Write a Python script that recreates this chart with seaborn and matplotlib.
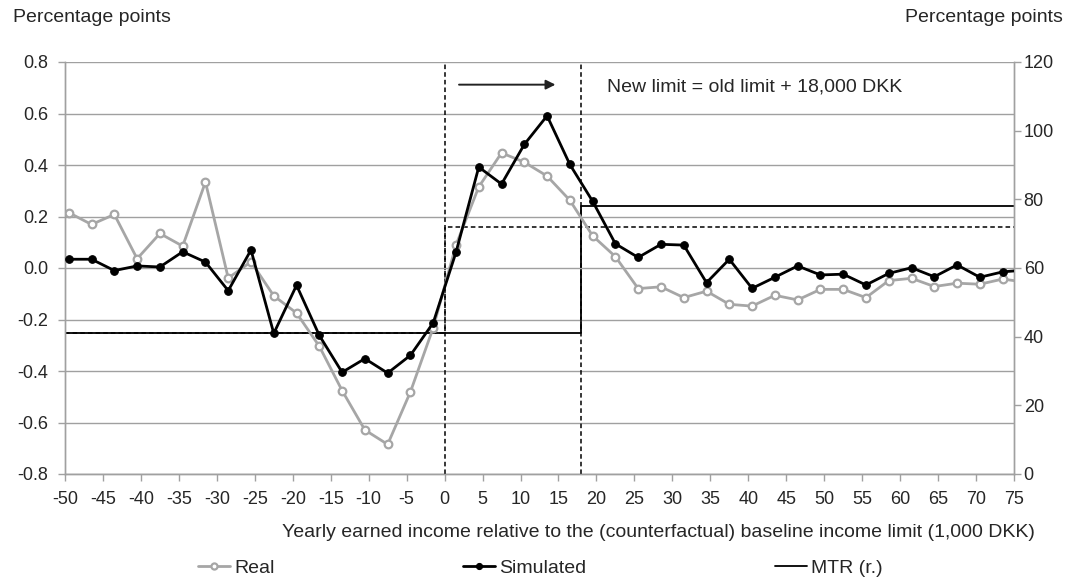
import numpy as np
import pandas as pd
import matplotlib
matplotlib.use("Agg")
import matplotlib.pyplot as plt
import seaborn as sns

# ---------------- data ----------------
income_bins = [-49.5, -46.5, -43.5, -40.5, -37.5, -34.5, -31.5, -28.5, -25.5, -22.5,
               -19.5, -16.5, -13.5, -10.5, -7.5, -4.5, -1.5, 1.5, 4.5, 7.5,
               10.5, 13.5, 16.5, 19.5, 22.5, 25.5, 28.5, 31.5, 34.5, 37.5,
               40.5, 43.5, 46.5, 49.5, 52.5, 55.5, 58.5, 61.5, 64.5, 67.5,
               70.5, 73.5, 76.5]
real = [0.215, 0.169, 0.208, 0.036, 0.134, 0.085, 0.334, -0.039, 0.024, -0.108,
        -0.175, -0.304, -0.476, -0.629, -0.685, -0.481, -0.232, 0.089, 0.315, 0.447,
        0.411, 0.357, 0.263, 0.125, 0.044, -0.080, -0.073, -0.115, -0.090, -0.141,
        -0.148, -0.106, -0.124, -0.083, -0.083, -0.115, -0.049, -0.040, -0.072, -0.059,
        -0.063, -0.043, -0.055]
simulated = [0.034, 0.034, -0.010, 0.008, 0.004, 0.063, 0.023, -0.088, 0.070, -0.254,
             -0.067, -0.262, -0.405, -0.352, -0.408, -0.339, -0.213, 0.061, 0.392, 0.326,
             0.480, 0.591, 0.402, 0.259, 0.094, 0.041, 0.092, 0.089, -0.057, 0.034,
             -0.079, -0.036, 0.008, -0.027, -0.024, -0.066, -0.021, 0.001, -0.034, 0.012,
             -0.036, -0.015, -0.008]

# marginal tax rate (right axis), step functions
mtr_new_x = [-50, 18, 75]
mtr_new_y = [41, 78, 78]
mtr_old_x = [-50, 0, 75]
mtr_old_y = [41, 72, 72]

old_limit = 0
new_limit = 18
arrow_from = (1.9, 0.712)
arrow_to = (14.6, 0.712)
note_pos = (21.4, 0.704)
note_text = "New limit = old limit + 18,000 DKK"

x_ticks = list(range(-50, 76, 5))
y_ticks = [-0.8, -0.6, -0.4, -0.2, 0.0, 0.2, 0.4, 0.6, 0.8]
y2_ticks = [0, 20, 40, 60, 80, 100, 120]

# ---------------- style ----------------
sns.set_style("white")
plt.rcParams["font.family"] = ["Liberation Sans", "DejaVu Sans"]
FS_TICK = 13
FS = 14
plt.rcParams["font.size"] = FS

GRAY = "#a6a6a6"
GRID = "#a0a0a0"
W, H = 1071, 583

fig = plt.figure(figsize=(W / 100, H / 100), dpi=100)
ax = fig.add_axes([65 / W, 1 - 474 / H, (1014 - 65) / W, (474 - 62) / H])

df = pd.DataFrame({"x": income_bins, "real": real, "sim": simulated})

sns.lineplot(data=df, x="x", y="real", ax=ax, color=GRAY, lw=2.0, marker="o",
             markersize=5.5, markerfacecolor="white", markeredgecolor=GRAY,
             markeredgewidth=1.6, sort=False, zorder=3)
sns.lineplot(data=df, x="x", y="sim", ax=ax, color="black", lw=2.0, marker="o",
             markersize=5.5, markerfacecolor="black", markeredgecolor="black",
             sort=False, zorder=4)
line_real = ax.lines[-2]
line_sim = ax.lines[-1]

ax.set_xlim(-50, 75)
ax.set_ylim(-0.8, 0.8)
ax.set_xticks(x_ticks)
ax.set_xticklabels([str(t) for t in x_ticks])
ax.set_yticks(y_ticks)
ax.set_yticklabels([f"{t:.1f}" for t in y_ticks])
ax.yaxis.grid(True, color=GRID, lw=1.0, zorder=0)
ax.xaxis.grid(False)
ax.set_axisbelow(True)

for v in (old_limit, new_limit):
    ax.axvline(v, color="black", lw=1.1, ls=(0, (3, 2)), zorder=2)

ax.annotate("", xy=arrow_to, xytext=arrow_from,
            arrowprops=dict(arrowstyle="-|>", color="#222222", lw=1.4, mutation_scale=14,
                            shrinkA=0, shrinkB=0))
ax.text(note_pos[0], note_pos[1], note_text, ha="left", va="center", fontsize=FS)

ax2 = ax.twinx()
ax2.set_position(ax.get_position())
sns.lineplot(x=mtr_old_x, y=mtr_old_y, ax=ax2, color="black", lw=1.1,
             ls=(0, (3, 2)), drawstyle="steps-post", sort=False)
sns.lineplot(x=mtr_new_x, y=mtr_new_y, ax=ax2, color="black", lw=1.3,
             drawstyle="steps-post", sort=False)
line_mtr = ax2.lines[-1]
ax2.set_ylim(0, 120)
ax2.set_yticks(y2_ticks)
ax2.set_yticklabels([str(t) for t in y2_ticks])
ax2.set_ylabel("")
ax2.grid(False)

for a in (ax, ax2):
    for side in ("left", "right", "bottom"):
        a.spines[side].set_visible(True)
        a.spines[side].set_color(GRID)
        a.spines[side].set_linewidth(1.0)
    a.spines["top"].set_visible(False)

ax.tick_params(axis="x", which="major", direction="out", length=5, width=1,
               color=GRID, pad=7, labelsize=FS_TICK, bottom=True)
ax.tick_params(axis="y", which="major", direction="out", length=5, width=1,
               color=GRID, pad=7, labelsize=FS_TICK, left=True)
ax2.tick_params(axis="y", which="major", direction="out", length=5, width=1,
                color=GRID, pad=2, labelsize=FS_TICK, right=True)

ax.set_ylabel("")
ax.set_xlabel("Yearly earned income relative to the (counterfactual) baseline income limit (1,000 DKK)",
              fontsize=FS, ha="right", va="center")
ax.xaxis.set_label_coords(1.022, -0.141)

fig.text(13 / W, 1 - 18 / H, "Percentage points", ha="left", va="center", fontsize=FS)
fig.text(1063 / W, 1 - 18 / H, "Percentage points", ha="right", va="center", fontsize=FS)

# legend entries placed individually along the bottom
legend_items = [(line_real, "Real", 198), (line_sim, "Simulated", 463), (line_mtr, "MTR (r.)", 775)]
for handle, label, xpx in legend_items:
    lg = fig.legend([handle], [label], loc="center left",
                    bbox_to_anchor=(xpx / W, 1 - 568 / H), bbox_transform=fig.transFigure,
                    frameon=False, handlelength=1.65, handletextpad=0.2, borderpad=0,
                    borderaxespad=0, fontsize=FS, markerscale=0.8)

ax2.set_zorder(ax.get_zorder() - 1)
ax.patch.set_visible(False)
ax2.patch.set_visible(True)
ax2.patch.set_facecolor("white")

fig.savefig("out.png", dpi=100, facecolor="white")
